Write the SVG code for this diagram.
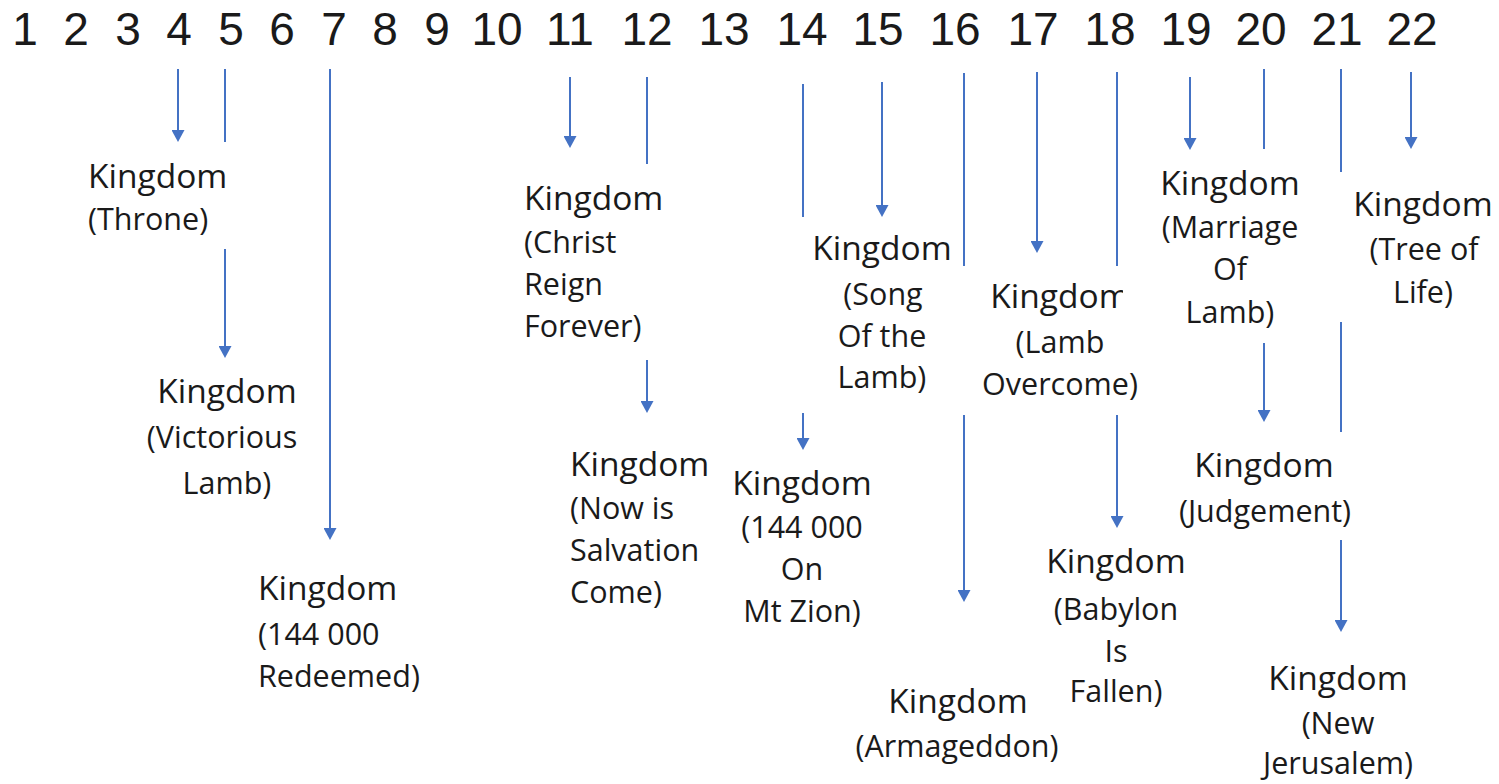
<svg xmlns="http://www.w3.org/2000/svg" width="1499" height="784" viewBox="0 0 1499 784">
<style>
text{font-family:"Open Sans","Noto Sans","Liberation Sans",sans-serif;fill:#1a1a1a}
.num text{font-family:"Liberation Sans",Arial,sans-serif;font-size:46px;text-anchor:middle}
.k{font-size:33.5px}
.s{font-size:30.5px}
.m{text-anchor:middle}
.c{stroke:#4472C4;stroke-width:2;fill:none}
.a{marker-end:url(#ah)}
</style>
<defs>
<marker id="ah" markerUnits="userSpaceOnUse" markerWidth="13" markerHeight="13" refX="10" refY="6.5" orient="auto">
<path d="M0,0 L12,6.5 L0,13 Z" fill="#4472C4"/>
</marker>
<clipPath id="clip17"><rect x="960" y="270" width="163" height="50"/></clipPath>
</defs>
<rect width="1499" height="784" fill="#fff"/>
<g id="numbers" class="num">
<text x="25" y="45">1</text><text x="76" y="45">2</text><text x="128" y="45">3</text><text x="179" y="45">4</text><text x="231" y="45">5</text><text x="282" y="45">6</text><text x="334" y="45">7</text><text x="385" y="45">8</text><text x="437" y="45">9</text>
<text x="497" y="45">10</text><text x="570" y="45">11</text><text x="647" y="45">12</text><text x="724" y="45">13</text><text x="802" y="45">14</text><text x="878" y="45">15</text><text x="955" y="45">16</text><text x="1033" y="45">17</text><text x="1110" y="45">18</text><text x="1186" y="45">19</text><text x="1261" y="45">20</text><text x="1337" y="45">21</text><text x="1412" y="45">22</text>
</g>
<g id="connectors">
<line class="c a" x1="178" y1="69" x2="178" y2="140"/>
<line class="c" x1="225" y1="69" x2="225" y2="142"/>
<line class="c a" x1="225" y1="249" x2="225" y2="356"/>
<line class="c a" x1="330" y1="69" x2="330" y2="538"/>
<line class="c a" x1="570" y1="77" x2="570" y2="146"/>
<line class="c" x1="647" y1="77" x2="647" y2="164"/>
<line class="c a" x1="647" y1="360" x2="647" y2="411"/>
<line class="c" x1="803" y1="84" x2="803" y2="217"/>
<line class="c a" x1="803" y1="413" x2="803" y2="448"/>
<line class="c a" x1="882" y1="82" x2="882" y2="215"/>
<line class="c" x1="964" y1="73" x2="964" y2="266"/>
<line class="c a" x1="964" y1="415" x2="964" y2="600"/>
<line class="c a" x1="1037" y1="72" x2="1037" y2="251"/>
<line class="c" x1="1117" y1="72" x2="1117" y2="266"/>
<line class="c a" x1="1117" y1="415" x2="1117" y2="526"/>
<line class="c a" x1="1190" y1="77" x2="1190" y2="148"/>
<line class="c" x1="1264" y1="69" x2="1264" y2="149"/>
<line class="c a" x1="1264" y1="343" x2="1264" y2="420"/>
<line class="c" x1="1341" y1="69" x2="1341" y2="172"/>
<line class="c" x1="1341" y1="322" x2="1341" y2="432"/>
<line class="c a" x1="1341" y1="540" x2="1341" y2="630"/>
<line class="c a" x1="1411" y1="72" x2="1411" y2="147"/>
</g>
<g id="n4"><text class="k" x="88" y="188">Kingdom</text><text class="s" x="88" y="230">(Throne)</text></g>
<g id="n5"><text class="k m" x="227" y="403">Kingdom</text><text class="s m" x="222" y="448">(Victorious</text><text class="s m" x="227" y="494">Lamb)</text></g>
<g id="n7"><text class="k" x="258" y="600">Kingdom</text><text class="s" x="258" y="645">(144 000</text><text class="s" x="258" y="687">Redeemed)</text></g>
<g id="n11"><text class="k" x="524" y="210">Kingdom</text><text class="s" x="524" y="253">(Christ</text><text class="s" x="524" y="295">Reign</text><text class="s" x="524" y="337">Forever)</text></g>
<g id="n12"><text class="k" x="570" y="476">Kingdom</text><text class="s" x="570" y="519">(Now is</text><text class="s" x="570" y="561">Salvation</text><text class="s" x="570" y="603">Come)</text></g>
<g id="n14"><text class="k m" x="802" y="495">Kingdom</text><text class="s m" x="802" y="538">(144 000</text><text class="s m" x="802" y="580">On</text><text class="s m" x="802" y="622">Mt Zion)</text></g>
<g id="n15"><text class="k m" x="882" y="260">Kingdom</text><text class="s m" x="883" y="305">(Song</text><text class="s m" x="882" y="347">Of the</text><text class="s m" x="882" y="388">Lamb)</text></g>
<g id="n16"><text class="k m" x="958" y="713">Kingdom</text><text class="s m" x="957" y="757">(Armageddon)</text></g>
<g id="n17"><text class="k m" x="1060" y="308" clip-path="url(#clip17)">Kingdom</text><text class="s m" x="1060" y="353">(Lamb</text><text class="s m" x="1060" y="395">Overcome)</text></g>
<g id="n18"><text class="k m" x="1116" y="573">Kingdom</text><text class="s m" x="1116" y="620">(Babylon</text><text class="s m" x="1116" y="662">Is</text><text class="s m" x="1116" y="702">Fallen)</text></g>
<g id="n19"><text class="k m" x="1230" y="195">Kingdom</text><text class="s m" x="1230" y="238">(Marriage</text><text class="s m" x="1230" y="280">Of</text><text class="s m" x="1230" y="323">Lamb)</text></g>
<g id="n20"><text class="k m" x="1264" y="477">Kingdom</text><text class="s m" x="1265" y="522">(Judgement)</text></g>
<g id="n21"><text class="k m" x="1338" y="690">Kingdom</text><text class="s m" x="1338" y="734">(New</text><text class="s m" x="1338" y="774">Jerusalem)</text></g>
<g id="n22"><text class="k m" x="1423" y="216">Kingdom</text><text class="s m" x="1424" y="260">(Tree of</text><text class="s m" x="1423" y="303">Life)</text></g>
</svg>
